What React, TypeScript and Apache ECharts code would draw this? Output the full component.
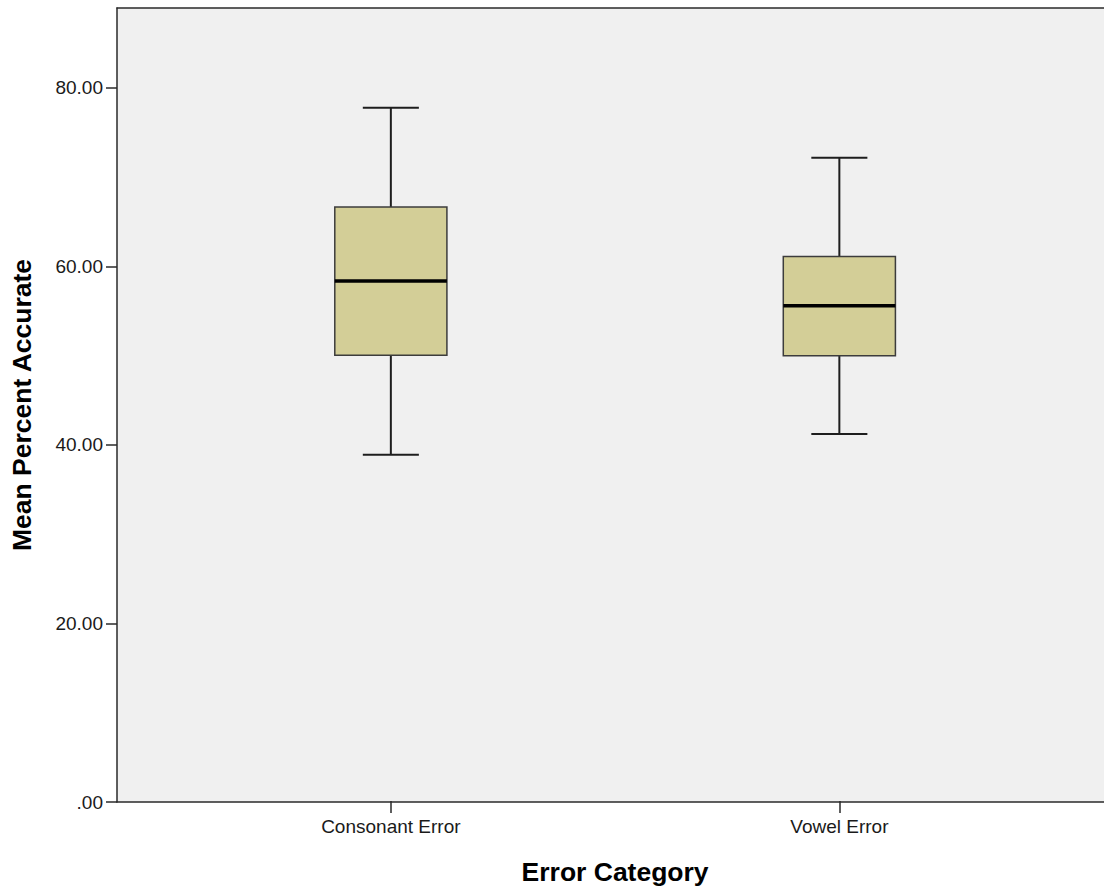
import React, { useEffect, useRef } from "react";
import * as echarts from "echarts";

const categories = ["Consonant Error", "Vowel Error"];
// [low whisker, Q1, median, Q3, high whisker]
const lowWhisker = [38.85, 41.16];
const q1 = [50.01, 49.94];
const median = [58.34, 55.54];
const q3 = [66.62, 61.07];
const highWhisker = [77.76, 72.16];
const yTicks = [0, 20, 40, 60, 80];

const Y_MIN = 0;
const Y_MAX = 88.95;

export default function App() {
  const ref = useRef<HTMLDivElement>(null);

  useEffect(() => {
    if (!ref.current) return;
    const chart = echarts.init(ref.current, undefined, { renderer: "svg" });

    const boxData = categories.map((c, i) => [
      i,
      lowWhisker[i],
      q1[i],
      median[i],
      q3[i],
      highWhisker[i],
    ]);

    const font = "Arial, 'Liberation Sans', sans-serif";
    const frameLine = { show: true, lineStyle: { color: "#2a2a2a", width: 1.5 } };

    const option: any = {
      animation: false,
      backgroundColor: "#ffffff",
      grid: [
        {
          left: 117,
          top: 8,
          right: -12,
          bottom: 88,
          show: true,
          backgroundColor: "#f0f0f0",
          borderWidth: 0,
        },
        {
          left: 166.6,
          top: 8,
          width: 897,
          bottom: 88,
        },
      ],
      xAxis: [
        {
          type: "value",
          gridIndex: 0,
          position: "bottom",
          min: 0,
          max: 1,
          axisLine: frameLine,
          axisTick: { show: false },
          axisLabel: { show: false },
          splitLine: { show: false },
        },
        {
          type: "category",
          gridIndex: 1,
          data: categories,
          boundaryGap: true,
          axisLine: { show: false },
          axisTick: {
            show: true,
            alignWithLabel: true,
            length: 12,
            lineStyle: { color: "#2a2a2a", width: 1.5 },
          },
          axisLabel: {
            color: "#1a1a1a",
            fontSize: 19,
            fontFamily: font,
            margin: 16,
          },
          name: "Error Category",
          nameLocation: "middle",
          nameGap: 57,
          nameTextStyle: {
            color: "#000",
            fontSize: 26.5,
            fontWeight: "bold",
            fontFamily: font,
          },
        },
        {
          type: "value",
          gridIndex: 0,
          position: "top",
          min: 0,
          max: 1,
          axisLine: frameLine,
          axisTick: { show: false },
          axisLabel: { show: false },
          splitLine: { show: false },
        },
      ],
      yAxis: [
        {
          type: "value",
          gridIndex: 0,
          min: Y_MIN,
          max: Y_MAX,
          interval: 20,
          axisLine: frameLine,
          axisTick: {
            show: true,
            length: 11,
            customValues: yTicks,
            lineStyle: { color: "#2a2a2a", width: 1.5 },
          },
          axisLabel: {
            customValues: yTicks,
            color: "#1a1a1a",
            fontSize: 19,
            fontFamily: font,
            margin: 14,
            formatter: (v: number) => (v === 0 ? ".00" : v.toFixed(2)),
          },
          splitLine: { show: false },
          name: "Mean Percent Accurate",
          nameLocation: "middle",
          nameGap: 82,
          nameTextStyle: {
            color: "#000",
            fontSize: 26.5,
            fontWeight: "bold",
            fontFamily: font,
          },
        },
        {
          type: "value",
          gridIndex: 1,
          min: Y_MIN,
          max: Y_MAX,
          show: false,
          splitLine: { show: false },
        },
      ],
      series: [
        {
          type: "custom",
          xAxisIndex: 1,
          yAxisIndex: 1,
          data: boxData,
          encode: { x: 0, y: [1, 2, 3, 4, 5] },
          renderItem: (params: any, api: any) => {
            const x = api.value(0);
            const pLow = api.coord([x, api.value(1)]);
            const pQ1 = api.coord([x, api.value(2)]);
            const pMed = api.coord([x, api.value(3)]);
            const pQ3 = api.coord([x, api.value(4)]);
            const pHigh = api.coord([x, api.value(5)]);
            const band = api.size([1, 0])[0];
            const bw = band * 0.25;
            const cx = pMed[0];
            const lineStyle = { stroke: "#1e1e1e", lineWidth: 2 };
            return {
              type: "group",
              children: [
                {
                  type: "line",
                  shape: { x1: cx, y1: pQ3[1], x2: cx, y2: pHigh[1] },
                  style: lineStyle,
                },
                {
                  type: "line",
                  shape: { x1: cx, y1: pQ1[1], x2: cx, y2: pLow[1] },
                  style: lineStyle,
                },
                {
                  type: "line",
                  shape: { x1: cx - bw / 4, y1: pHigh[1], x2: cx + bw / 4, y2: pHigh[1] },
                  style: lineStyle,
                },
                {
                  type: "line",
                  shape: { x1: cx - bw / 4, y1: pLow[1], x2: cx + bw / 4, y2: pLow[1] },
                  style: lineStyle,
                },
                {
                  type: "rect",
                  shape: {
                    x: cx - bw / 2,
                    y: pQ3[1],
                    width: bw,
                    height: pQ1[1] - pQ3[1],
                  },
                  style: { fill: "#d3ce97", stroke: "#3c3c3c", lineWidth: 1.5 },
                },
                {
                  type: "line",
                  shape: { x1: cx - bw / 2, y1: pMed[1], x2: cx + bw / 2, y2: pMed[1] },
                  style: { stroke: "#000", lineWidth: 3.5 },
                },
              ],
            };
          },
        },
      ],
    };

    chart.setOption(option);
    return () => chart.dispose();
  }, []);

  return (
    <div
      ref={ref}
      style={{ position: "fixed", left: 0, top: 0, width: 1104, height: 890 }}
    />
  );
}
